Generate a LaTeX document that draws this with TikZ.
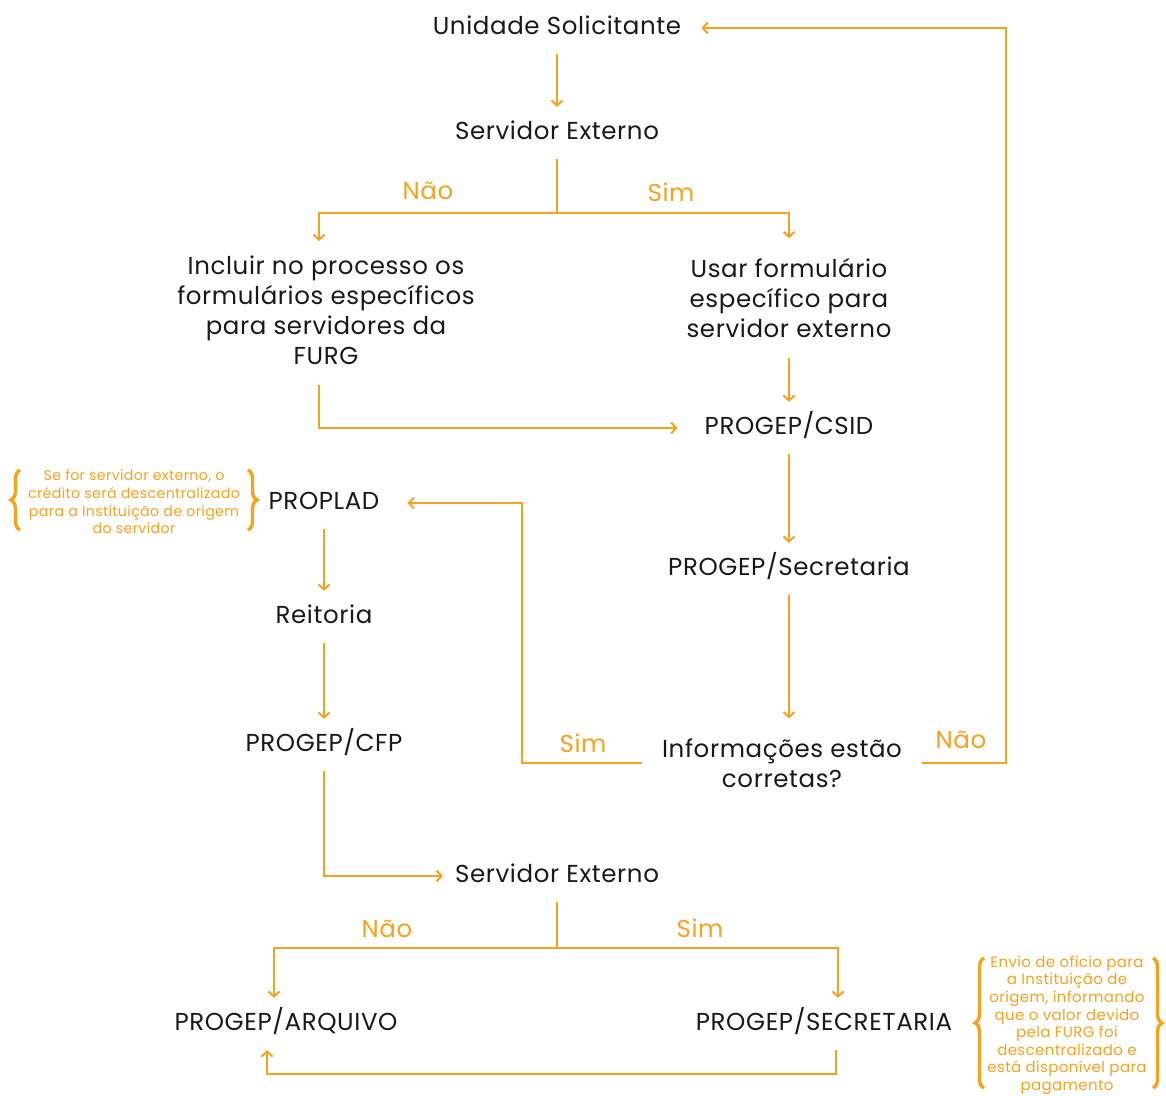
\documentclass[tikz,border=0pt]{standalone}
\usepackage{fontspec}
\setmainfont{Poppins}[LetterSpace=2.5]
\usetikzlibrary{arrows.meta,decorations.pathreplacing}
\definecolor{org}{RGB}{247,162,30}
\definecolor{ink}{RGB}{25,25,25}
\begin{document}
\begin{tikzpicture}[x=1pt,y=-1pt,
 single/.style={font=\fontsize{24.5}{30}\selectfont, text=ink, inner xsep=20pt, inner ysep=14pt, text height=18pt, text depth=6pt},
 multi/.style={font=\fontsize{24.5}{30}\selectfont, text=ink, inner xsep=20pt, inner ysep=20pt, align=center},
 lab/.style={font=\fontsize{24.5}{30}\selectfont, text=org, inner sep=0pt},
 note/.style={font=\fontsize{15}{17.6}\selectfont, text=org, align=center, inner sep=0pt},
 ln/.style={draw=org, line width=2pt},
 arr/.style={ln, -{Straight Barb[length=5pt,width=11pt]}},
 brc/.style={draw=org, line width=3.4pt, decorate, decoration={brace, amplitude=9pt}}]
\useasboundingbox[fill=white] (0,0) rectangle (1166,1095);

% nodes
\node[single] (us) at (557,28) {Unidade Solicitante};
\node[single] (se1) at (557,133) {Servidor Externo};
\node[multi] (inc) at (326,310) {Incluir no processo os\\formulários específicos\\para servidores da\\FURG};
\node[multi] (usar) at (789,298) {Usar formulário\\específico para\\servidor externo};
\node[single] (csid) at (789,428) {PROGEP/CSID};
\node[single] (psec) at (789,569) {PROGEP/Secretaria};
\node[multi] (info) at (782,763) {Informações estão\\corretas?};
\node[single] (propl) at (324,503) {PROPLAD};
\node[single] (reit) at (324,617) {Reitoria};
\node[single] (cfp) at (324,745) {PROGEP/CFP};
\node[single] (se2) at (557,876) {Servidor Externo};
\node[single] (arq) at (286,1024) {PROGEP/ARQUIVO};
\node[single] (sec2) at (824,1024) {PROGEP/SECRETARIA};

% labels
\node[lab] (l1) at (428,191) {Não};
\node[lab] (l2) at (671,192) {Sim};
\node[lab] (l3) at (583,743) {Sim};
\node[lab] (l4) at (961,740) {Não};
\node[lab] (l5) at (387,929) {Não};
\node[lab] (l6) at (700,928) {Sim};

% notes
\node[note, font=\fontsize{14.2}{17.6}\selectfont] (n1) at (134,502) {Se for servidor externo, o\\crédito será descentralizado\\para a Instituição de origem\\do servidor};
\node[note] (n2) at (1067,1025) {Envio de ofício para\\a Instituição de\\origem, informando\\que o valor devido\\pela FURG foi\\descentralizado e\\está disponível para\\pagamento};
\draw[brc] (20,530) -- (20,470);
\draw[brc] (248,470) -- (248,530);
\draw[brc] (984,1088) -- (984,958);
\draw[brc] (1153,958) -- (1153,1088);

% coordinates
\coordinate (s1) at (557,213);
\coordinate (s1l) at (319,241);
\coordinate (s2) at (557,948);
\coordinate (bendS) at (522,630);
\coordinate (bendN) at (1006,400);
\coordinate (rb) at (550,1074);

% connectors
\draw[arr] (us) -- (se1);
\draw[ln] (se1) -- (s1);
\draw[arr] (s1) -| (s1l);
\draw[arr] (s1) -| (usar.north);
\draw[arr] (usar) -- (csid);
\draw[arr] ([xshift=-7pt]inc.south) |- ([xshift=-7pt]csid.west);
\draw[arr] (csid) -- (psec);
\draw[arr] (psec) -- (psec |- info.north);
\draw[arr] (info.west) -| (bendS) |- ([xshift=8pt]propl.east);
\draw[arr] (info.east) -| (bendN) |- (us.east);
\draw[arr] (propl) -- (reit);
\draw[arr] (reit) -- (cfp);
\draw[arr] (cfp.south) |- ([xshift=8pt]se2.west);
\draw[ln] (se2) -- (s2);
\draw[arr] (s2) -| ([xshift=-12pt]arq.north);
\draw[arr] (s2) -| ([xshift=14pt]sec2.north);
\draw[arr] ([xshift=12pt]sec2.south) |- (rb) -| ([xshift=-19pt]arq.south);
\end{tikzpicture}
\end{document}
